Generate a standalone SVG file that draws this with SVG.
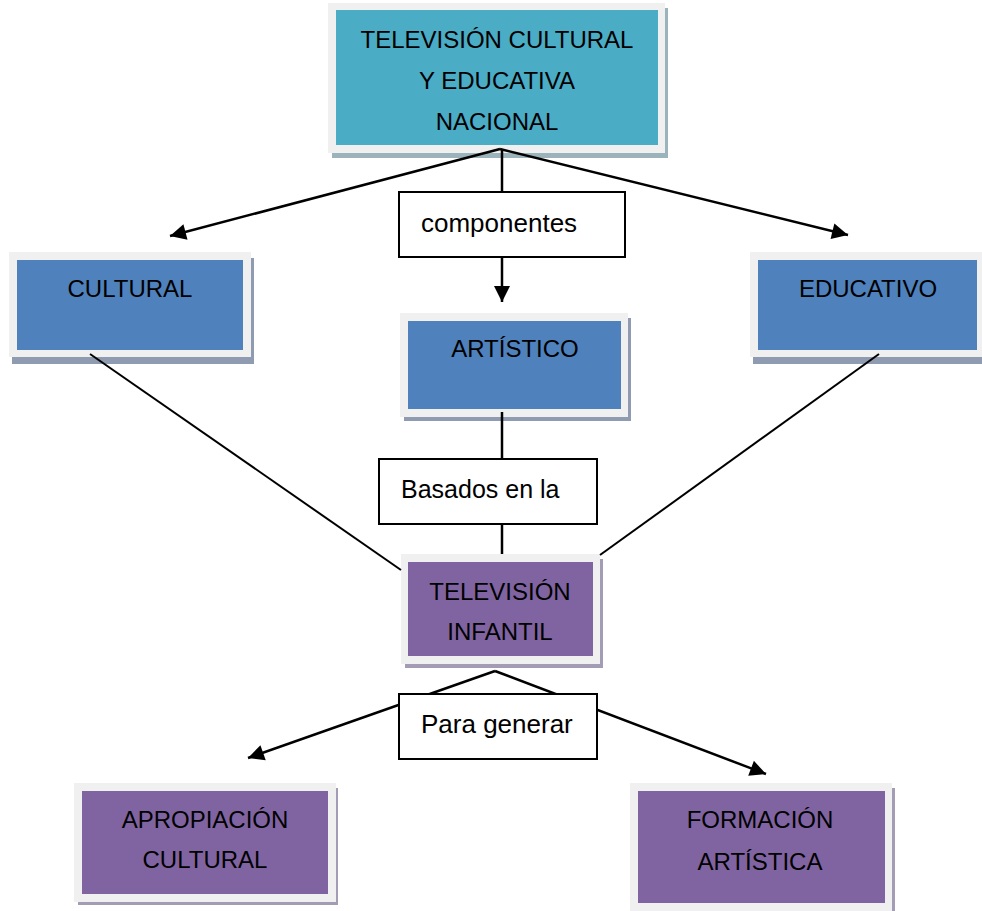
<svg xmlns="http://www.w3.org/2000/svg" width="982" height="911" viewBox="0 0 982 911">
<defs>
<style>
.frame{fill:#f0f0f0}
.shadow{fill:#8e9bb0}
.shp{fill:#a49cb4}
.sht{fill:#9bb3bb}
.teal{fill:#4bacc6}
.blue{fill:#4f81bd}
.purple{fill:#8064a2}
.lbl{fill:#ffffff;stroke:#000;stroke-width:2}
.conn{stroke:#000;stroke-width:2.5;fill:none}
text{font-family:"Liberation Sans",Arial,sans-serif;fill:#000;text-anchor:middle}
.cap{font-size:24px}
.low{font-size:26px;text-anchor:start}
</style>
<marker id="arr" markerUnits="userSpaceOnUse" markerWidth="20" markerHeight="20" viewBox="0 0 20 20" refX="18" refY="10" orient="auto">
<path d="M2,2 L18,10 L2,18 Z" fill="#000"/>
</marker>
</defs>
<rect width="982" height="911" fill="#ffffff"/>
<g id="n-top">
<rect class="sht" x="332" y="8" width="336" height="150"/>
<rect class="frame" x="328" y="3" width="337" height="150"/>
<rect class="teal" x="336" y="10" width="322" height="135"/>
<text class="cap" x="497" y="48">TELEVISIÓN CULTURAL</text>
<text class="cap" x="497" y="89">Y EDUCATIVA</text>
<text class="cap" x="497" y="130">NACIONAL</text>
</g>
<g id="n-cultural">
<rect class="shadow" x="12" y="258" width="242" height="106"/>
<rect class="frame" x="9" y="252" width="242" height="105"/>
<rect class="blue" x="17" y="260" width="226" height="90"/>
<text class="cap" x="130" y="297">CULTURAL</text>
</g>
<g id="n-artistico">
<rect class="shadow" x="404" y="318" width="227" height="103"/>
<rect class="frame" x="400" y="313" width="228" height="104"/>
<rect class="blue" x="408" y="321" width="213" height="88"/>
<text class="cap" x="515" y="357">ARTÍSTICO</text>
</g>
<g id="n-educativo">
<rect class="shadow" x="753" y="258" width="229" height="106"/>
<rect class="frame" x="750" y="252" width="232" height="105"/>
<rect class="blue" x="758" y="260" width="219" height="90"/>
<text class="cap" x="868" y="297">EDUCATIVO</text>
</g>
<g id="n-infantil">
<rect class="shp" x="405" y="559" width="198" height="109"/>
<rect class="frame" x="401" y="554" width="199" height="110"/>
<rect class="purple" x="408" y="562" width="185" height="94"/>
<text class="cap" x="500" y="600">TELEVISIÓN</text>
<text class="cap" x="500" y="640">INFANTIL</text>
</g>
<g id="n-apropiacion">
<rect class="shp" x="78" y="788" width="260" height="117"/>
<rect class="frame" x="74" y="783" width="262" height="119"/>
<rect class="purple" x="82" y="791" width="246" height="103"/>
<text class="cap" x="205" y="828">APROPIACIÓN</text>
<text class="cap" x="205" y="868">CULTURAL</text>
</g>
<g id="n-formacion">
<rect class="shp" x="634" y="788" width="261" height="130"/>
<rect class="frame" x="630" y="783" width="262" height="130"/>
<rect class="purple" x="638" y="791" width="247" height="112"/>
<text class="cap" x="760" y="828">FORMACIÓN</text>
<text class="cap" x="760" y="870">ARTÍSTICA</text>
</g>
<g id="connectors">
<line class="conn" x1="500" y1="149" x2="170" y2="236" marker-end="url(#arr)"/>
<line class="conn" x1="500" y1="149" x2="848" y2="235" marker-end="url(#arr)"/>
<line class="conn" x1="502" y1="149" x2="502" y2="192"/>
<line class="conn" x1="502" y1="257" x2="502" y2="302" marker-end="url(#arr)"/>
<line class="conn" x1="502" y1="412" x2="502" y2="459"/>
<line class="conn" x1="502" y1="524" x2="502" y2="554"/>
<line class="conn" x1="90" y1="354" x2="401" y2="570" style="stroke-width:2"/>
<line class="conn" x1="879" y1="354" x2="600" y2="555" style="stroke-width:2"/>
<line class="conn" x1="495" y1="671" x2="248" y2="758" marker-end="url(#arr)"/>
<line class="conn" x1="495" y1="671" x2="766" y2="774" marker-end="url(#arr)"/>
</g>
<g id="l-componentes">
<rect class="lbl" x="399" y="192" width="226" height="65"/>
<text class="low" x="421" y="232">componentes</text>
</g>
<g id="l-basados">
<rect class="lbl" x="379" y="459" width="218" height="65"/>
<text class="low" x="401" y="498" style="font-size:25px">Basados en la</text>
</g>
<g id="l-para">
<rect class="lbl" x="399" y="694" width="198" height="65"/>
<text class="low" x="421" y="733">Para generar</text>
</g>
</svg>
